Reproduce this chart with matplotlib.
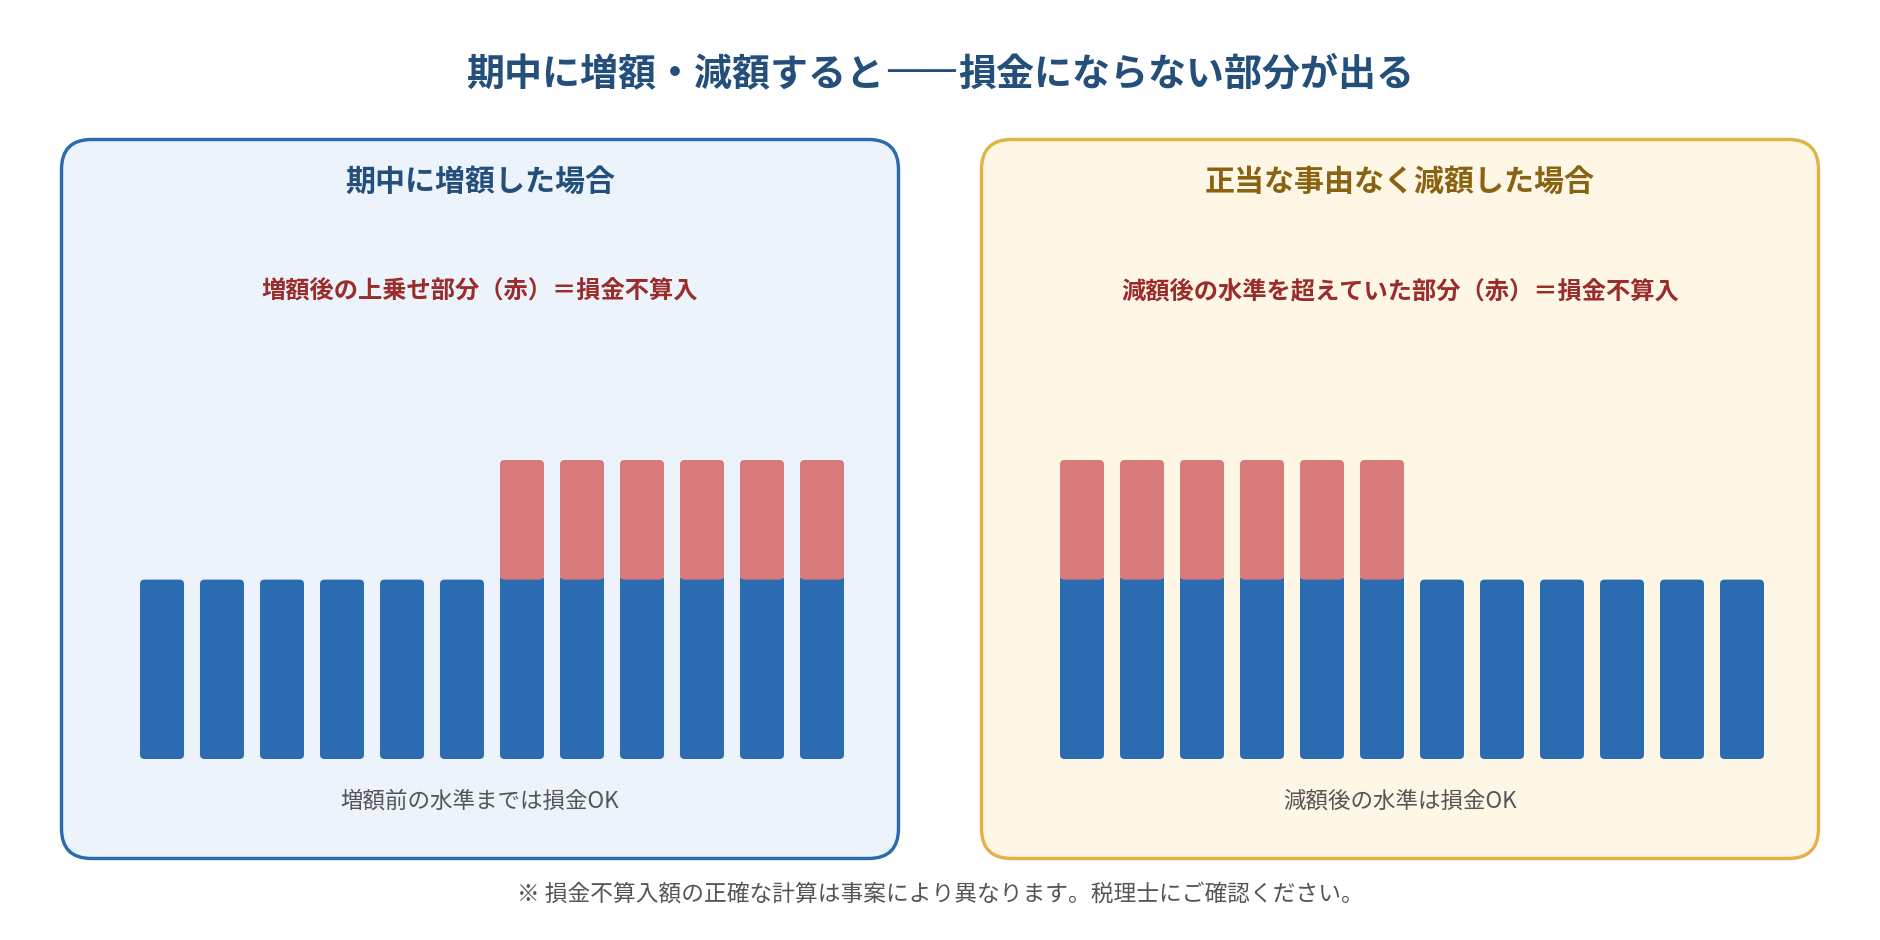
import matplotlib
matplotlib.use("Agg")
import matplotlib.pyplot as plt
from matplotlib.patches import FancyBboxPatch
import numpy as np

plt.rcParams['font.family'] = ['Noto Sans CJK JP', 'DejaVu Sans']

# ---------------- data ----------------
months = list(range(1, 13))
left_paid = [30, 30, 30, 30, 30, 30, 50, 50, 50, 50, 50, 50]
left_deductible = [30, 30, 30, 30, 30, 30, 30, 30, 30, 30, 30, 30]
right_paid = [50, 50, 50, 50, 50, 50, 30, 30, 30, 30, 30, 30]
right_deductible = [30, 30, 30, 30, 30, 30, 30, 30, 30, 30, 30, 30]

title_parts = ["期中に増額・減額すると", "—", "—", "損金にならない部分が出る"]
panel_titles = ["期中に増額した場合", "正当な事由なく減額した場合"]
panel_notes = ["増額後の上乗せ部分（赤）＝損金不算入", "減額後の水準を超えていた部分（赤）＝損金不算入"]
panel_bottoms = ["増額前の水準までは損金OK", "減額後の水準は損金OK"]
footer = "※ 損金不算入額の正確な計算は事案により異なります。税理士にご確認ください。"

# ---------------- style ----------------
W, H = 1880, 940
BLUE = "#2b6cb0"
RED = "#d77a79"
NAVY = "#234f7a"
DARKRED = "#9b2c2c"
GRAY = "#555555"
panel_fill = ["#ecf3fb", "#fef7e6"]
panel_edge = ["#2b6cb0", "#e0b445"]
title_colors = [NAVY, "#8a6312"]

def px(v):
    return v * 0.72

fig = plt.figure(figsize=(W / 100, H / 100), dpi=100)
fig.patch.set_facecolor("white")
bg = fig.add_axes([0, 0, 1, 1])
bg.set_xlim(0, W)
bg.set_ylim(H, 0)
bg.axis("off")

# ---- main title built from pieces (thin continuous dash) ----
renderer = fig.canvas.get_renderer()
tsize = px(38)
pieces = []
for k, s in enumerate(title_parts):
    if s == "—":
        t = bg.text(0, 81, s, ha="left", va="baseline", fontsize=tsize,
                    family="DejaVu Sans", fontweight="normal", color=NAVY)
    else:
        t = bg.text(0, 86, s, ha="left", va="baseline", fontsize=tsize,
                    fontweight="bold", color=NAVY)
    pieces.append(t)
widths = [t.get_window_extent(renderer).width for t in pieces]
overlap = [0, -1, 4, -1]
total = sum(widths) - sum(overlap)
x = 940 - total / 2
for t, w, o in zip(pieces, widths, overlap):
    x -= o
    t.set_x(x)
    x += w

panel_x = [60, 980]
for i in range(2):
    x0 = panel_x[i]
    box = FancyBboxPatch((x0 + 1.5, 139.5), 837, 719,
                         boxstyle="round,pad=0,rounding_size=30",
                         facecolor=panel_fill[i], edgecolor=panel_edge[i],
                         linewidth=3.4 * 0.72, zorder=1)
    bg.add_patch(box)
    cx = x0 + 420
    bg.text(cx, 182, panel_titles[i], ha="center", va="center",
            fontsize=px(30), fontweight="bold", color=title_colors[i], zorder=3)
    bg.text(cx, 292, panel_notes[i], ha="center", va="center",
            fontsize=px(24.3), fontweight="bold", color=DARKRED, zorder=3)
    bg.text(cx, 801, panel_bottoms[i], ha="center", va="center",
            fontsize=px(22.5), color=GRAY, zorder=3)

bg.text(940, 894, footer, ha="center", va="center", fontsize=px(22.7), color=GRAY)

# ---------------- bar charts ----------------
bar_left_px = [140, 1060]
paid_sets = [left_paid, right_paid]
ded_sets = [left_deductible, right_deductible]
bottom_px, top_px = 759, 460
bar_w = 44 / 60
rad_px = 4.5

for i in range(2):
    ax_left = bar_left_px[i] - 8
    ax = fig.add_axes([ax_left / W, (H - bottom_px) / H, 720 / W, (bottom_px - top_px) / H])
    ax.set_xlim(-0.5, 11.5)
    ax.set_ylim(0, 50)
    ax.axis("off")
    ax.patch.set_alpha(0)
    idx = np.arange(len(months))
    paid = np.array(paid_sets[i])
    ded = np.array(ded_sets[i])
    extra = paid - ded
    blue_bars = ax.bar(idx, ded, width=bar_w, color=BLUE)
    red_bars = ax.bar(idx, extra, bottom=ded, width=bar_w, color=RED)
    x_per_px = 12 / 720
    y_per_px = 50 / (bottom_px - top_px)
    rs = rad_px * x_per_px
    aspect = y_per_px / x_per_px
    for b, r in zip(blue_bars, red_bars):
        b.set_visible(False)
        r.set_visible(False)
        hb = b.get_height()
        if r.get_height() > 0:
            hb += rad_px * y_per_px
        ax.add_patch(FancyBboxPatch((b.get_x(), b.get_y()), b.get_width(), hb,
                                    boxstyle=f"round,pad=0,rounding_size={rs}",
                                    mutation_aspect=aspect, facecolor=BLUE,
                                    edgecolor="none", zorder=2, clip_on=False))
        if r.get_height() > 0:
            ax.add_patch(FancyBboxPatch((r.get_x(), r.get_y()), r.get_width(), r.get_height(),
                                        boxstyle=f"round,pad=0,rounding_size={rs}",
                                        mutation_aspect=aspect, facecolor=RED,
                                        edgecolor="none", zorder=3, clip_on=False))

fig.savefig("out.png", dpi=100, facecolor="white")
